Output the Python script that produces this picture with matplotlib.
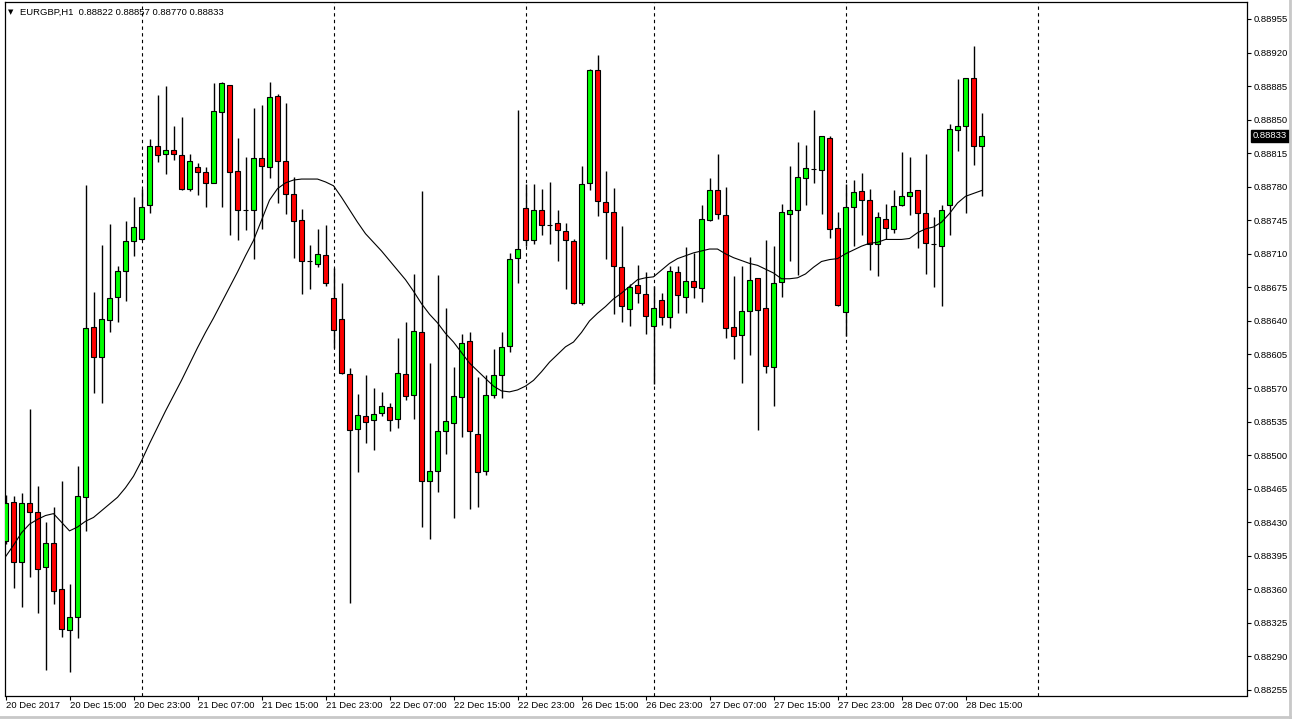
import numpy as np
import pandas as pd
import matplotlib
matplotlib.use("Agg")
import matplotlib.pyplot as plt
import matplotlib.transforms as mtransforms
from matplotlib.lines import Line2D

symbol = "EURGBP,H1"

# hourly bars, 20 Dec 2017 07:00 -> 28 Dec 2017 17:00
opens = [0.88410, 0.88451, 0.88389, 0.88450, 0.88441, 0.88383, 0.88408, 0.88360, 0.88318, 0.88331,
         0.88456, 0.88634, 0.88602, 0.88641, 0.88665, 0.88692, 0.88723, 0.88725, 0.88761, 0.88823,
         0.88814, 0.88818, 0.88813, 0.88778, 0.88801, 0.88795, 0.88784, 0.88858, 0.88886, 0.88796,
         0.88756, 0.88756, 0.88810, 0.88801, 0.88875, 0.88807, 0.88772, 0.88745, 0.88702, 0.88699,
         0.88709, 0.88664, 0.88642, 0.88585, 0.88527, 0.88541, 0.88537, 0.88544, 0.88550, 0.88538,
         0.88585, 0.88563, 0.88628, 0.88473, 0.88483, 0.88525, 0.88534, 0.88561, 0.88619, 0.88522,
         0.88483, 0.88563, 0.88584, 0.88614, 0.88706, 0.88758, 0.88724, 0.88756, 0.88740, 0.88742,
         0.88734, 0.88723, 0.88659, 0.88784, 0.88902, 0.88764, 0.88754, 0.88696, 0.88652, 0.88677,
         0.88668, 0.88635, 0.88662, 0.88644, 0.88691, 0.88665, 0.88682, 0.88674, 0.88745, 0.88777,
         0.88751, 0.88634, 0.88625, 0.88650, 0.88685, 0.88654, 0.88592, 0.88681, 0.88752, 0.88756,
         0.88789, 0.88799, 0.88797, 0.88831, 0.88737, 0.88649, 0.88759, 0.88776, 0.88766, 0.88720,
         0.88746, 0.88736, 0.88761, 0.88770, 0.88777, 0.88753, 0.88720, 0.88718, 0.88761, 0.88839,
         0.88843, 0.88893, 0.88822]
highs = [0.88458, 0.88457, 0.88461, 0.88548, 0.88468, 0.88430, 0.88446, 0.88473, 0.88366, 0.88489,
         0.88782, 0.88670, 0.88719, 0.88741, 0.88697, 0.88744, 0.88769, 0.88778, 0.88830, 0.88876,
         0.88885, 0.88843, 0.88853, 0.88814, 0.88805, 0.88801, 0.88888, 0.88889, 0.88886, 0.88831,
         0.88811, 0.88862, 0.88865, 0.88889, 0.88877, 0.88867, 0.88790, 0.88757, 0.88719, 0.88736,
         0.88740, 0.88695, 0.88680, 0.88591, 0.88564, 0.88584, 0.88570, 0.88566, 0.88554, 0.88622,
         0.88639, 0.88689, 0.88776, 0.88596, 0.88688, 0.88654, 0.88592, 0.88626, 0.88628, 0.88582,
         0.88584, 0.88611, 0.88628, 0.88711, 0.88860, 0.88783, 0.88783, 0.88778, 0.88785, 0.88756,
         0.88742, 0.88725, 0.88802, 0.88903, 0.88917, 0.88796, 0.88779, 0.88739, 0.88679, 0.88698,
         0.88691, 0.88676, 0.88669, 0.88697, 0.88697, 0.88717, 0.88711, 0.88761, 0.88789, 0.88814,
         0.88780, 0.88687, 0.88697, 0.88707, 0.88685, 0.88724, 0.88718, 0.88762, 0.88802, 0.88827,
         0.88824, 0.88860, 0.88833, 0.88833, 0.88754, 0.88783, 0.88787, 0.88794, 0.88778, 0.88754,
         0.88762, 0.88777, 0.88816, 0.88811, 0.88777, 0.88814, 0.88748, 0.88761, 0.88845, 0.88892,
         0.88893, 0.88927, 0.88857]
lows = [0.88407, 0.88361, 0.88342, 0.88373, 0.88335, 0.88276, 0.88345, 0.88310, 0.88274, 0.88309,
        0.88421, 0.88565, 0.88554, 0.88628, 0.88639, 0.88661, 0.88708, 0.88724, 0.88753, 0.88806,
        0.88793, 0.88808, 0.88777, 0.88776, 0.88771, 0.88759, 0.88784, 0.88759, 0.88730, 0.88724,
        0.88735, 0.88705, 0.88736, 0.88789, 0.88763, 0.88752, 0.88706, 0.88668, 0.88673, 0.88696,
        0.88676, 0.88612, 0.88585, 0.88346, 0.88482, 0.88513, 0.88505, 0.88541, 0.88525, 0.88528,
        0.88557, 0.88538, 0.88425, 0.88413, 0.88462, 0.88501, 0.88434, 0.88519, 0.88444, 0.88446,
        0.88479, 0.88560, 0.88560, 0.88608, 0.88680, 0.88718, 0.88720, 0.88730, 0.88720, 0.88702,
        0.88673, 0.88658, 0.88657, 0.88777, 0.88749, 0.88705, 0.88647, 0.88639, 0.88635, 0.88659,
        0.88626, 0.88574, 0.88636, 0.88633, 0.88648, 0.88648, 0.88664, 0.88660, 0.88744, 0.88746,
        0.88622, 0.88600, 0.88575, 0.88604, 0.88526, 0.88586, 0.88551, 0.88665, 0.88702, 0.88688,
        0.88761, 0.88784, 0.88752, 0.88727, 0.88656, 0.88624, 0.88718, 0.88730, 0.88693, 0.88687,
        0.88725, 0.88732, 0.88760, 0.88751, 0.88716, 0.88689, 0.88675, 0.88656, 0.88730, 0.88817,
        0.88753, 0.88803, 0.88770]
closes = [0.88450, 0.88389, 0.88450, 0.88441, 0.88381, 0.88408, 0.88358, 0.88319, 0.88331, 0.88457,
          0.88633, 0.88602, 0.88642, 0.88664, 0.88692, 0.88723, 0.88738, 0.88759, 0.88823, 0.88813,
          0.88818, 0.88814, 0.88778, 0.88807, 0.88795, 0.88784, 0.88859, 0.88888, 0.88795, 0.88756,
          0.88756, 0.88810, 0.88802, 0.88874, 0.88807, 0.88772, 0.88744, 0.88702, 0.88702, 0.88710,
          0.88680, 0.88631, 0.88586, 0.88526, 0.88542, 0.88535, 0.88543, 0.88551, 0.88537, 0.88586,
          0.88562, 0.88630, 0.88473, 0.88483, 0.88525, 0.88536, 0.88562, 0.88617, 0.88525, 0.88482,
          0.88563, 0.88584, 0.88613, 0.88705, 0.88715, 0.88724, 0.88756, 0.88740, 0.88740, 0.88735,
          0.88724, 0.88659, 0.88783, 0.88902, 0.88765, 0.88754, 0.88697, 0.88656, 0.88675, 0.88669,
          0.88645, 0.88654, 0.88644, 0.88692, 0.88667, 0.88682, 0.88675, 0.88746, 0.88777, 0.88752,
          0.88633, 0.88624, 0.88650, 0.88683, 0.88651, 0.88593, 0.88680, 0.88754, 0.88756, 0.88790,
          0.88800, 0.88799, 0.88833, 0.88736, 0.88657, 0.88759, 0.88775, 0.88766, 0.88720, 0.88748,
          0.88737, 0.88760, 0.88770, 0.88774, 0.88753, 0.88721, 0.88720, 0.88756, 0.88840, 0.88843,
          0.88893, 0.88823, 0.88833]

# moving average line
ma = [0.88394, 0.88406, 0.88419, 0.88428, 0.88433, 0.88437, 0.88439, 0.88430, 0.88421, 0.88425,
      0.88431, 0.88435, 0.88442, 0.88449, 0.88456, 0.88466, 0.88478, 0.88494, 0.88512, 0.88529,
      0.88546, 0.88562, 0.88578, 0.88595, 0.88612, 0.88628, 0.88643, 0.88659, 0.88675, 0.88691,
      0.88708, 0.88724, 0.88745, 0.88766, 0.88778, 0.88784, 0.88787, 0.88788, 0.88788, 0.88788,
      0.88785, 0.88781, 0.88769, 0.88756, 0.88743, 0.88731, 0.88722, 0.88713, 0.88703, 0.88693,
      0.88683, 0.88671, 0.88658, 0.88647, 0.88638, 0.88627, 0.88618, 0.88607, 0.88596, 0.88588,
      0.88580, 0.88572, 0.88567, 0.88566, 0.88568, 0.88572, 0.88578, 0.88587, 0.88597, 0.88605,
      0.88613, 0.88618, 0.88628, 0.88640, 0.88648, 0.88655, 0.88663, 0.88669, 0.88676, 0.88683,
      0.88685, 0.88686, 0.88693, 0.88700, 0.88705, 0.88708, 0.88711, 0.88713, 0.88715, 0.88715,
      0.88710, 0.88706, 0.88703, 0.88700, 0.88698, 0.88694, 0.88690, 0.88684, 0.88684, 0.88685,
      0.88689, 0.88696, 0.88702, 0.88704, 0.88705, 0.88710, 0.88714, 0.88718, 0.88721, 0.88722,
      0.88725, 0.88725, 0.88725, 0.88726, 0.88732, 0.88736, 0.88738, 0.88743, 0.88752, 0.88763,
      0.88770, 0.88773, 0.88776]

# trading sessions (first bar, number of hourly bars)
sessions = [("2017-12-20 07:00", 17), ("2017-12-21 00:00", 24), ("2017-12-22 00:00", 24),
            ("2017-12-26 08:00", 16), ("2017-12-27 00:00", 24), ("2017-12-28 00:00", 18)]

price_ticks = [0.88255, 0.88290, 0.88325, 0.88360, 0.88395, 0.88430, 0.88465, 0.88500,
               0.88535, 0.88570, 0.88605, 0.88640, 0.88675, 0.88710, 0.88745, 0.88780,
               0.88815, 0.88850, 0.88885, 0.88920, 0.88955]

times = []
for start, count in sessions:
    times += list(pd.date_range(start, periods=count, freq="h"))

o = np.array(opens); h = np.array(highs); l = np.array(lows); c = np.array(closes)
x = np.arange(len(o))

W, H = 1292, 719
fig = plt.figure(figsize=(W / 100, H / 100), dpi=100)
ax = fig.add_axes([4.5 / W, 23.5 / H, 1242 / W, 693.5 / H])

ax.vlines(x, l, h, color="black", lw=1.0, zorder=2)
up = c >= o
body_col = np.where(up, "#00ff00", "#ff0000")
ax.bar(x, np.abs(c - o), bottom=np.minimum(o, c), width=0.6, color=body_col,
       edgecolor="black", linewidth=0.8, zorder=3)
ax.plot(x, ma, color="black", lw=0.8, zorder=4)

# day separators (incl. the next one to the right)
seps = []
idx = 0
for start, count in sessions:
    if idx > 0:
        seps.append(idx)
    idx += count
seps.append(idx - sessions[-1][1] + 24)
for s in seps:
    ax.axvline(s, color="black", lw=0.8, linestyle=(0, (3, 3)), zorder=1)

ax.set_xlim(-0.125, 155.125)
ax.set_ylim(0.8824926, 0.889727)

# price axis on the right
ax.yaxis.tick_right()
ax.set_yticks(price_ticks)
ax.set_yticklabels([f"{p:.5f}" for p in price_ticks])
ax.tick_params(axis="y", direction="out", length=3, width=0.8, pad=2,
               labelsize=6.8, labelfontfamily="Liberation Sans")

# time axis
tick_pos = list(range(0, len(times), 8))
tick_lab = []
for i in tick_pos:
    t = times[i]
    tick_lab.append(t.strftime("%d %b %Y") if i == 0 else t.strftime("%d %b %H:%M"))
ax.set_xticks(tick_pos)
ax.set_xticklabels(tick_lab)
ax.tick_params(axis="x", direction="out", length=3, width=0.8, pad=1,
               labelsize=6.8, labelfontfamily="Liberation Sans")
for lab in ax.get_xticklabels():
    lab.set_ha("left")

for sp in ax.spines.values():
    sp.set_linewidth(0.9)

# current price marker
trans = mtransforms.blended_transform_factory(ax.transAxes, ax.transData)
ax.text(1.0 + 6 / 1242, closes[-1], f"{closes[-1]:.5f}", transform=trans,
        color="white", fontsize=6.8, family="Liberation Sans", va="center", ha="left",
        bbox=dict(boxstyle="square,pad=0.2", fc="black", ec="black"), clip_on=False)

# header
fig.text(8 / W, 1 - 12 / H, "\u25bc", fontsize=5, va="center", ha="left")
fig.text(20 / W, 1 - 12 / H,
         f"{symbol}  {opens[-1]:.5f} {highs[-1]:.5f} {lows[-1]:.5f} {closes[-1]:.5f}",
         fontsize=6.8, family="Liberation Sans", va="center", ha="left")

# window frame
fig.add_artist(Line2D([1 - 2 / W, 1 - 2 / W], [0, 1], color="#c8c8c8", lw=2))
fig.add_artist(Line2D([0, 1], [2 / H, 2 / H], color="#c8c8c8", lw=2))

fig.savefig("out.png", dpi=100)
